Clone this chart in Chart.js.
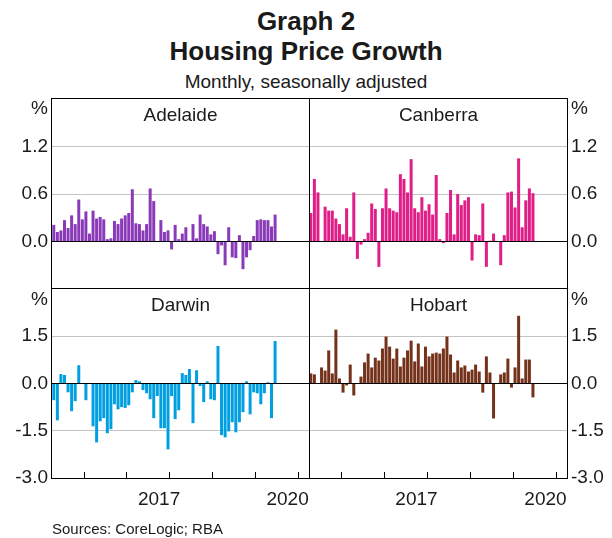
<!DOCTYPE html>
<html><head><meta charset="utf-8">
<script src="https://cdn.jsdelivr.net/npm/chart.js@4"></script>
<style>
html,body{margin:0;padding:0;background:#fff;}
body{width:612px;height:538px;position:relative;overflow:hidden;font-family:"Liberation Sans",Arial,sans-serif;color:#1a1a1a;}
canvas{position:absolute;}
.t{position:absolute;white-space:nowrap;}
.line{position:absolute;background:#000;}
</style></head><body>
<div class="t" style="left:0;width:612px;text-align:center;top:7px;font-size:26px;line-height:28px;font-weight:bold;">Graph 2</div>
<div class="t" style="left:0;width:612px;text-align:center;top:37px;font-size:26px;line-height:28px;font-weight:bold;">Housing Price Growth</div>
<div class="t" style="left:0;width:612px;text-align:center;top:71px;font-size:19px;line-height:22px;">Monthly, seasonally adjusted</div>

<canvas id="cA" width="309" height="210" style="left:0;top:89px;"></canvas>
<canvas id="cC" width="303" height="210" style="left:309px;top:89px;"></canvas>
<canvas id="cD" width="309" height="259" style="left:0;top:279px;"></canvas>
<canvas id="cH" width="303" height="259" style="left:309px;top:279px;"></canvas>

<div class="line" style="left:51px;top:98px;width:517px;height:1px;"></div>
<div class="line" style="left:51px;top:478px;width:517px;height:1px;"></div>
<div class="line" style="left:51px;top:98px;width:1px;height:381px;"></div>
<div class="line" style="left:567px;top:98px;width:1px;height:381px;"></div>
<div class="line" style="left:309px;top:98px;width:1px;height:381px;"></div>
<div class="line" style="left:51px;top:288px;width:517px;height:1px;"></div>

<div class="t" style="left:52px;width:257px;text-align:center;top:104px;font-size:19px;line-height:22px;">Adelaide</div>
<div class="t" style="left:310px;width:257px;text-align:center;top:104px;font-size:19px;line-height:22px;">Canberra</div>
<div class="t" style="left:52px;width:257px;text-align:center;top:294px;font-size:19px;line-height:22px;">Darwin</div>
<div class="t" style="left:310px;width:257px;text-align:center;top:294px;font-size:19px;line-height:22px;">Hobart</div>

<div class="t" style="left:0;width:48px;text-align:right;top:97px;font-size:19px;line-height:22px;">%</div>
<div class="t" style="left:571px;top:97px;font-size:19px;line-height:22px;">%</div>
<div class="t" style="left:0;width:48px;text-align:right;top:288px;font-size:19px;line-height:22px;">%</div>
<div class="t" style="left:571px;top:288px;font-size:19px;line-height:22px;">%</div>

<div class="t" style="left:52px;top:520px;font-size:15px;line-height:17px;">Sources: CoreLogic; RBA</div>

<script>
// Months from Jan 2015 to Mar 2020 (63 observations); axis spans Jan 2015 - Dec 2020
const startYear = 2015;
const axisMonths = 72;
const labelYears = [2017, 2020];
const topTicks = [-0.6, 0, 0.6, 1.2, 1.8];
const bottomTicks = [-3, -1.5, 0, 1.5, 3];

const adelaide = [0.21,0.12,0.14,0.27,0.17,0.33,0.22,0.53,0.28,0.38,
  0.10,0.39,0.29,0.31,0.28,0.03,0.04,0.26,0.22,0.29,
  0.33,0.36,0.66,0.23,0.22,0.14,0.22,0.67,0.51,0.00,
  0.27,0.12,0.14,-0.10,0.21,0.03,0.10,0.18,0.01,0.22,
  0.04,0.34,0.22,0.19,0.09,0.13,-0.16,-0.05,-0.30,0.18,
  -0.20,-0.21,0.08,-0.35,-0.20,-0.11,0.07,0.27,0.28,0.27,
  0.27,0.19,0.34];
const canberra = [0.36,0.79,0.62,0.00,0.44,0.39,0.39,0.29,0.22,0.09,
  0.42,0.06,0.62,-0.22,-0.04,0.03,0.11,0.48,0.41,-0.32,
  0.42,0.67,0.42,0.39,0.37,0.85,0.79,0.62,1.04,0.42,
  0.37,0.56,0.39,0.47,0.34,0.84,0.03,-0.02,0.36,0.65,
  0.09,0.60,0.46,0.52,0.56,-0.24,0.09,0.08,0.48,-0.32,
  0.01,0.10,0.00,-0.30,0.08,0.62,0.63,0.43,1.05,0.18,
  0.52,0.67,0.61];
const darwin = [-0.53,-1.17,0.30,0.27,-0.28,-0.88,-0.56,0.58,0.00,-0.53,
  0.00,-1.36,-1.87,-1.20,-1.10,-1.58,-1.45,-0.66,-0.82,-0.75,
  -0.78,-0.69,-0.28,0.11,0.07,-0.21,-0.31,-0.50,-1.10,-0.40,
  -1.42,-1.42,-2.09,-0.40,-1.13,-0.85,0.33,0.27,0.46,-1.26,
  0.42,-0.08,-0.59,0.07,-0.50,-0.53,1.19,-1.64,-1.71,-1.52,
  -1.23,-1.55,-1.23,-0.91,0.07,-0.98,-0.28,-0.31,-0.66,-0.31,
  0.04,-1.10,1.35];
const hobart = [0.32,0.29,0.01,0.51,0.41,1.05,0.32,1.71,0.16,-0.29,
  -0.06,0.60,-0.38,0.00,0.22,0.67,0.95,0.51,0.82,0.73,
  1.11,1.49,1.17,0.79,1.11,0.54,0.82,1.05,1.36,0.70,
  1.27,0.54,1.17,0.86,0.95,0.98,0.95,1.11,1.49,0.92,
  0.35,0.73,0.51,0.57,0.38,0.44,0.60,0.38,-0.29,0.86,
  0.35,-1.11,0.00,0.29,0.35,0.79,-0.13,0.51,2.15,0.16,
  0.76,0.76,-0.44];

Chart.defaults.font.family = '"Liberation Sans", Arial, sans-serif';
Chart.defaults.color = '#1a1a1a';

function makeChart(id, values, color, ticks, side, showX) {
  const lo = ticks[0], hi = ticks[ticks.length - 1];
  const near = (a, b) => Math.abs(a - b) < 1e-9;
  return new Chart(document.getElementById(id), {
    type: 'bar',
    data: { datasets: [{
      data: values.map((v, i) => ({ x: i + 0.5, y: v })),
      backgroundColor: color, borderWidth: 0,
      barPercentage: 0.84, categoryPercentage: 1.0
    }]},
    options: {
      responsive: false, animation: false, devicePixelRatio: 1,
      layout: { padding: { top: 10, bottom: showX ? 0 : 10, left: 0, right: 0 } },
      plugins: { legend: { display: false }, tooltip: { enabled: false } },
      scales: {
        x: {
          type: 'linear', min: 0, max: axisMonths, display: showX, offset: false,
          afterBuildTicks: s => { const t = []; for (let v = 0; v <= axisMonths; v += 6) t.push({ value: v }); s.ticks = t; },
          afterFit: s => { if (showX) { s.height = 60; } else { s.height = 0; } s.paddingLeft = 0; s.paddingRight = 0; },
          ticks: {
            autoSkip: false, maxRotation: 0, minRotation: 0, padding: 16,
            font: { size: 19 },
            callback: v => {
              if (v % 12 !== 6) return '';
              const yr = startYear + (v - 6) / 12;
              return labelYears.includes(yr) ? String(yr) : '';
            }
          },
          grid: {
            drawOnChartArea: false, drawTicks: true, tickLength: -6, tickWidth: 1,
            tickColor: ctx => (ctx.tick && ctx.tick.value % 12 === 0) ? '#000' : 'rgba(0,0,0,0)'
          },
          border: { display: false }
        },
        y: {
          type: 'linear', position: side, min: lo, max: hi,
          afterBuildTicks: s => { s.ticks = ticks.map(v => ({ value: v })); },
          afterFit: s => { s.width = side === 'left' ? 52 : 45; s.paddingTop = 0; s.paddingBottom = 0; },
          ticks: {
            padding: 4, font: { size: 19 },
            callback: v => (near(v, hi) || (!showX && near(v, lo))) ? '' : Number(v).toFixed(1)
          },
          grid: {
            drawTicks: false, tickLength: 0, lineWidth: 1,
            color: ctx => {
              const v = ctx.tick ? ctx.tick.value : null;
              if (v === null) return 'rgba(0,0,0,0)';
              if (near(v, 0)) return '#000';
              if (near(v, lo) || near(v, hi)) return 'rgba(0,0,0,0)';
              return '#c4c4c4';
            }
          },
          border: { display: false }
        }
      }
    }
  });
}

makeChart('cA', adelaide, '#8a3ab9', topTicks, 'left', false);
makeChart('cC', canberra, '#e01e87', topTicks, 'right', false);
makeChart('cD', darwin, '#00a0e0', bottomTicks, 'left', true);
makeChart('cH', hobart, '#74321a', bottomTicks, 'right', true);
</script>
</body></html>
